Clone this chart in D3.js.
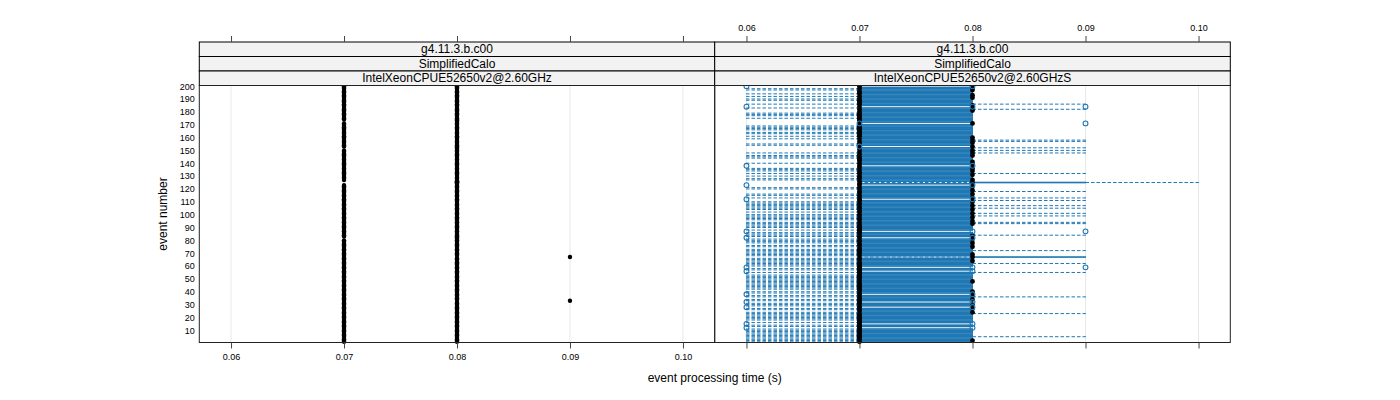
<!DOCTYPE html>
<html><head><meta charset="utf-8">
<script src="https://cdn.jsdelivr.net/npm/d3@7"></script>
<style>
html,body{margin:0;padding:0;background:#fff;}
text{font-family:"Liberation Sans",Arial,Helvetica,sans-serif;}
</style></head>
<body><svg id="c" width="1400" height="400"></svg>
<script>
// ---- DATA (times in milliseconds, event numbers 1..200) ----
const tickLabels = ["0.06","0.07","0.08","0.09","0.10"];
const tickValues = [0.06,0.07,0.08,0.09,0.10];
const yTicks = [10,20,30,40,50,60,70,80,90,100,110,120,130,140,150,160,170,180,190,200];
const stripLeft = ["g4.11.3.b.c00","SimplifiedCalo","IntelXeonCPUE52650v2@2.60GHz"];
const stripRight = ["g4.11.3.b.c00","SimplifiedCalo","IntelXeonCPUE52650v2@2.60GHzS"];
const events = d3.range(1, 201);

// left panel: two runs per event
const leftRunA = [
70,70,70,70,70,70,70,70,70,70,70,70,70,70,70,70,70,70,70,70,
70,70,70,70,70,70,70,70,70,70,70,70,70,70,70,70,70,70,70,70,
70,70,70,70,70,70,70,70,70,70,70,70,70,70,70,70,70,70,70,70,
70,70,70,70,70,70,70,70,70,70,70,70,70,70,70,70,70,70,70,70,
80,80,70,70,70,70,70,70,70,70,70,70,70,70,70,70,70,70,70,70,
70,70,70,70,70,70,70,70,70,70,70,70,70,70,70,70,70,70,70,70,
70,70,70,80,80,80,70,70,70,70,70,70,70,70,70,70,70,70,70,70,
70,70,70,70,70,70,70,70,70,70,80,80,70,70,70,70,70,70,70,70,
70,70,70,70,70,70,70,70,70,70,70,80,80,70,70,70,70,70,70,70,
70,70,70,70,70,70,70,70,70,70,70,70,70,70,70,70,70,70,70,70];
const leftRunB = [
80,80,80,80,80,80,80,80,80,80,80,80,80,80,80,80,80,80,80,80,
80,80,80,80,80,80,80,80,80,80,80,80,90,80,80,80,80,80,80,80,
80,80,80,80,80,80,80,80,80,80,80,80,80,80,80,80,80,80,80,80,
80,80,80,80,80,80,90,80,80,80,80,80,80,80,80,80,80,80,80,80,
80,80,80,80,80,80,80,80,80,80,80,80,80,80,80,80,80,80,80,80,
80,80,80,80,80,80,80,80,80,80,80,80,80,80,80,80,80,80,80,80,
80,80,80,80,80,80,80,80,80,80,80,80,80,80,80,80,80,80,80,80,
80,80,80,80,80,80,80,80,80,80,80,80,80,80,80,80,80,80,80,80,
80,80,80,80,80,80,80,80,80,80,80,80,80,80,80,80,80,80,80,80,
80,80,80,80,80,80,80,80,80,80,80,80,80,80,80,80,80,80,80,80];

// right panel: box-and-whisker statistics per event
const rightMed = [
70,80,70,70,70,70,70,70,70,70,70,70,70,70,70,70,70,70,70,70,
70,70,70,80,70,70,80,70,70,80,70,70,70,80,70,70,80,70,70,80,
70,70,70,70,70,70,70,80,70,70,70,70,70,70,70,70,70,70,70,70,
70,70,70,80,70,70,80,70,80,70,70,70,70,70,80,70,70,80,70,70,
80,70,70,80,70,70,70,70,70,70,70,70,80,70,80,70,70,80,70,70,
80,70,70,80,70,70,80,70,70,80,70,70,80,70,70,80,70,70,80,70,
70,80,70,70,80,70,80,70,70,70,80,70,70,80,70,80,70,70,80,70,
80,70,70,70,70,80,70,80,70,80,70,70,80,70,70,80,70,80,70,80,
70,70,70,70,70,70,70,70,70,70,80,70,70,70,70,70,70,70,70,70,
80,70,80,70,80,70,70,70,70,70,80,70,80,70,70,70,80,70,80,70];
const rightQ1 = [
70,70,70,70,70,70,70,70,70,70,70,70,70,70,70,70,70,70,70,70,
70,70,70,70,70,70,70,70,70,70,70,70,70,70,70,70,70,70,70,70,
70,70,70,70,70,70,70,70,70,70,70,70,70,70,70,70,70,70,70,70,
70,70,70,70,70,70,80,70,70,70,70,70,70,70,70,70,70,70,70,70,
70,70,70,70,70,70,70,70,70,70,70,70,70,70,70,70,70,70,70,70,
70,70,70,70,70,70,70,70,70,70,70,70,70,70,70,70,70,70,70,70,
70,70,70,70,80,70,70,70,70,70,70,70,70,70,70,70,70,70,70,70,
70,70,70,70,70,70,70,70,70,70,70,70,80,70,70,70,70,70,70,70,
70,70,70,70,70,70,70,70,70,70,80,70,70,70,70,70,70,70,70,70,
70,70,70,70,70,70,70,70,70,70,70,70,70,70,70,70,70,70,70,70];
const rightQ3 = [
80,80,80,80,80,80,80,80,80,80,80,70,80,80,70,80,80,80,80,80,
80,80,80,80,80,80,80,70,80,80,80,70,80,80,80,80,80,70,80,80,
80,80,80,80,80,80,80,80,80,80,80,80,80,80,80,70,80,80,70,80,
80,80,80,80,80,80,90,80,80,80,80,80,80,80,80,80,80,80,80,80,
80,70,80,80,80,80,70,80,80,80,80,80,80,80,80,80,80,80,80,80,
80,80,80,80,80,80,80,80,80,80,80,70,80,80,80,80,80,80,80,80,
80,80,70,80,90,80,80,80,80,80,80,80,80,80,80,80,80,70,80,80,
80,80,80,80,80,80,80,80,80,80,80,80,80,80,80,80,80,80,80,80,
80,80,80,80,80,80,80,80,80,80,80,80,80,80,80,80,80,80,80,80,
80,80,80,70,80,80,80,80,80,80,80,80,80,80,80,80,80,80,80,70];
const rightLo = [
60,60,60,60,60,60,60,60,60,60,60,70,60,60,70,60,70,60,60,60,
60,60,60,60,70,60,60,70,60,60,60,70,60,60,70,60,60,70,60,60,
70,60,60,60,60,60,60,60,60,60,60,60,60,70,60,70,60,60,70,60,
60,60,60,60,60,60,70,60,60,60,60,60,60,70,60,60,70,60,60,60,
60,70,60,60,60,60,70,60,70,60,60,60,60,60,70,60,60,60,60,60,
70,60,70,60,60,60,60,60,60,60,70,70,60,70,60,60,70,70,70,60,
60,70,70,70,70,70,60,60,70,60,70,60,70,60,60,60,70,70,70,60,
70,70,70,60,60,60,70,60,70,70,70,70,80,60,60,70,70,70,60,70,
60,70,60,60,70,60,60,60,60,70,80,70,70,70,60,70,60,60,60,70,
70,70,60,70,70,60,70,70,60,60,70,60,70,60,70,70,60,60,70,70];
const rightHi = [
80,80,80,80,90,80,80,80,80,80,80,70,80,80,70,80,80,80,80,80,
80,80,90,80,80,80,80,70,80,80,80,70,80,80,80,90,80,70,80,80,
80,80,80,80,80,80,80,80,80,80,80,80,80,80,90,70,80,80,70,80,
80,90,80,80,80,80,90,80,80,80,80,90,80,80,80,80,80,80,80,80,
80,70,80,90,80,80,70,80,80,80,80,80,90,90,80,80,80,80,90,80,
90,80,80,80,90,80,90,80,80,80,90,70,90,80,80,80,80,90,80,80,
80,80,70,80,100,80,80,80,80,80,80,90,80,80,80,80,80,70,80,80,
80,80,80,80,80,80,80,90,80,90,80,90,80,80,80,80,90,90,80,80,
80,80,80,80,80,80,80,80,80,80,80,80,80,80,80,80,80,80,80,80,
80,90,80,70,80,90,80,80,80,80,80,80,80,80,80,80,80,80,80,70];
// outliers: [event, time ms]
const rightOutliers = [
[12,60],[12,80],[15,60],[15,80],[28,60],[28,80],[32,60],[32,80],[38,60],[38,80],
[56,60],[56,80],[59,60],[59,80],[59,90],[82,60],[82,80],[87,60],[87,80],[87,90],
[112,60],[112,80],[123,60],[123,80],[138,60],[138,80],[153,70],[171,70],[171,90],
[184,60],[184,80],[184,90],[200,60],[200,80]];

// ---- LAYOUT ----
const svg = d3.select("#c");
const leftX0 = 199.3, midX = 714.7, rightX1 = 1230.3;
const panelTop = 85.5, panelBottom = 342.5;
const stripTops = [42, 56.5, 71];
const stripH = 14.5;
const dom = [0.05719, 0.10281];
const xL = d3.scaleLinear().domain(dom).range([leftX0, midX]);
const xR = d3.scaleLinear().domain(dom).range([midX, rightX1]);
const y = d3.scaleLinear().domain([0.5, 200.5]).range([panelBottom, panelTop]);
const ms = v => v / 1000;
const blue = "#1f78b4";

// grid lines
[xL, xR].forEach(x => {
  svg.append("g").selectAll("line").data(tickValues).join("line")
    .attr("x1", d => x(d)).attr("x2", d => x(d))
    .attr("y1", panelTop).attr("y2", panelBottom)
    .attr("stroke", "#e8e8e8").attr("stroke-width", 1);
});

// ---- LEFT PANEL points ----
const gL = svg.append("g");
[leftRunA, leftRunB].forEach(run => {
  gL.selectAll(null).data(events).join("circle")
    .attr("cx", (d, i) => xL(ms(run[i])))
    .attr("cy", d => y(d))
    .attr("r", 2.2).attr("fill", "#000");
});

// ---- RIGHT PANEL box and whisker per event ----
const gR = svg.append("g");
const bh = (y(0) - y(1)) * 0.5;
// boxes
gR.selectAll(null).data(events).join("rect")
  .attr("x", (d, i) => xR(ms(rightQ1[i])))
  .attr("width", (d, i) => xR(ms(rightQ3[i])) - xR(ms(rightQ1[i])))
  .attr("y", d => y(d) - bh / 2).attr("height", bh)
  .attr("fill", "none").attr("stroke", blue).attr("stroke-width", 1);
// whiskers (dashed)
const wh = gR.append("g").attr("stroke", blue).attr("stroke-width", 1).attr("stroke-dasharray", "3.5,2");
wh.selectAll(null).data(events.filter((d, i) => rightLo[i] < rightQ1[i])).join("line")
  .attr("x1", d => xR(ms(rightQ1[d - 1]))).attr("x2", d => xR(ms(rightLo[d - 1])))
  .attr("y1", d => y(d)).attr("y2", d => y(d));
wh.selectAll(null).data(events.filter((d, i) => rightHi[i] > rightQ3[i])).join("line")
  .attr("x1", d => xR(ms(rightQ3[d - 1]))).attr("x2", d => xR(ms(rightHi[d - 1])))
  .attr("y1", d => y(d)).attr("y2", d => y(d));
// whisker caps
const caps = gR.append("g").attr("stroke", blue).attr("stroke-width", 1);
caps.selectAll(null).data(events.filter((d, i) => rightLo[i] < rightQ1[i])).join("line")
  .attr("x1", d => xR(ms(rightLo[d - 1]))).attr("x2", d => xR(ms(rightLo[d - 1])))
  .attr("y1", d => y(d) - bh / 2).attr("y2", d => y(d) + bh / 2);
caps.selectAll(null).data(events.filter((d, i) => rightHi[i] > rightQ3[i])).join("line")
  .attr("x1", d => xR(ms(rightHi[d - 1]))).attr("x2", d => xR(ms(rightHi[d - 1])))
  .attr("y1", d => y(d) - bh / 2).attr("y2", d => y(d) + bh / 2);
// medians
gR.selectAll(null).data(events).join("circle")
  .attr("cx", (d, i) => xR(ms(rightMed[i]))).attr("cy", d => y(d))
  .attr("r", 2.4).attr("fill", "#000");
// outliers
gR.selectAll(null).data(rightOutliers).join("circle")
  .attr("cx", d => xR(ms(d[1]))).attr("cy", d => y(d[0]))
  .attr("r", 2.4).attr("fill", "none").attr("stroke", blue).attr("stroke-width", 1.1);

// ---- STRIPS ----
[[leftX0, midX, stripLeft], [midX, rightX1, stripRight]].forEach(([a, b, labels]) => {
  labels.forEach((lab, k) => {
    svg.append("rect").attr("x", a).attr("y", stripTops[k]).attr("width", b - a).attr("height", stripH)
      .attr("fill", "#f2f2f2").attr("stroke", "#000").attr("stroke-width", 1);
    svg.append("text").attr("x", (a + b) / 2).attr("y", stripTops[k] + stripH / 2 + 4.2)
      .attr("text-anchor", "middle").attr("font-size", 12).attr("fill", "#000").text(lab);
  });
});

// ---- PANEL BORDERS ----
[[leftX0, midX], [midX, rightX1]].forEach(([a, b]) => {
  svg.append("rect").attr("x", a).attr("y", panelTop).attr("width", b - a).attr("height", panelBottom - panelTop)
    .attr("fill", "none").attr("stroke", "#222").attr("stroke-width", 1);
});

// ---- AXES ----
function styleAxis(g) {
  g.select(".domain").remove();
  g.selectAll(".tick line").attr("stroke", "#444");
  g.selectAll(".tick text").attr("font-size", 9).attr("fill", "#000")
    .attr("font-family", "Liberation Sans, Arial, sans-serif");
}
// bottom, left panel: ticks + labels
svg.append("g").attr("transform", `translate(0,${panelBottom})`)
  .call(d3.axisBottom(xL).tickValues(tickValues).tickFormat((d, i) => tickLabels[i]).tickSize(6).tickPadding(5))
  .call(styleAxis);
// bottom, right panel: ticks only
svg.append("g").attr("transform", `translate(0,${panelBottom})`)
  .call(d3.axisBottom(xR).tickValues(tickValues).tickFormat("").tickSize(6))
  .call(styleAxis);
// top, left panel: ticks only
svg.append("g").attr("transform", `translate(0,${stripTops[0]})`)
  .call(d3.axisTop(xL).tickValues(tickValues).tickFormat("").tickSize(6))
  .call(styleAxis);
// top, right panel: ticks + labels
svg.append("g").attr("transform", `translate(0,${stripTops[0]})`)
  .call(d3.axisTop(xR).tickValues(tickValues).tickFormat((d, i) => tickLabels[i]).tickSize(6).tickPadding(5))
  .call(styleAxis);
// left y axis: labels only
svg.append("g").attr("transform", `translate(${leftX0},0)`)
  .call(d3.axisLeft(y).tickValues(yTicks).tickSize(0).tickPadding(4.5))
  .call(styleAxis);

// ---- TITLES ----
svg.append("text").attr("x", midX).attr("y", 382).attr("text-anchor", "middle")
  .attr("font-size", 12).text("event processing time (s)");
svg.append("text").attr("transform", `translate(167,${(panelTop + panelBottom) / 2}) rotate(-90)`)
  .attr("text-anchor", "middle").attr("font-size", 12).text("event number");
</script></body></html>
